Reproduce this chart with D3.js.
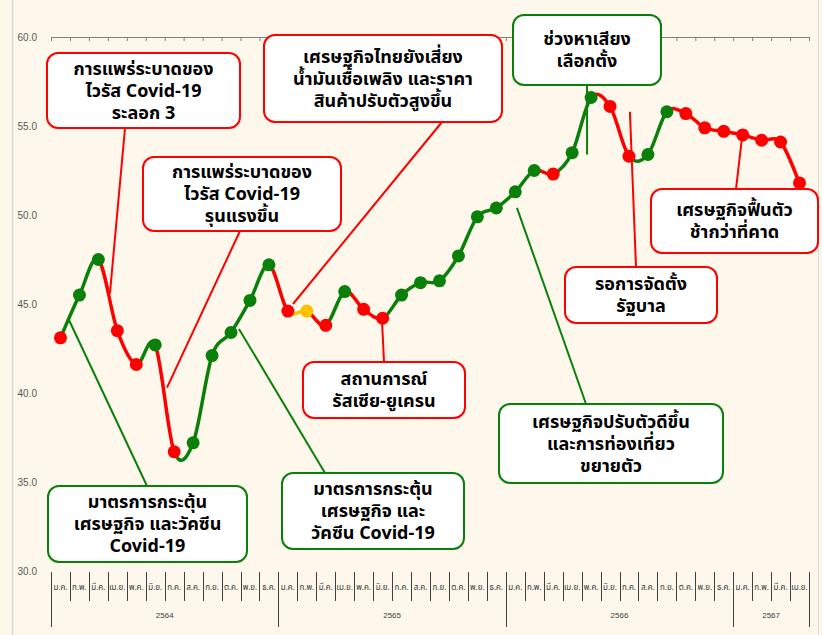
<!DOCTYPE html>
<html>
<head>
<meta charset="utf-8">
<script src="https://cdn.jsdelivr.net/npm/d3@7"></script>
<style>
  body { margin: 0; background: #fdf8eb; }
  svg { display: block; }
</style>
</head>
<body>
<div id="chart"></div>
<script>
// Thai month abbreviations and Buddhist-era years
const months = ["ม.ค.", "ก.พ.", "มี.ค.", "เม.ย.", "พ.ค.", "มิ.ย.", "ก.ค.", "ส.ค.", "ก.ย.", "ต.ค.", "พ.ย.", "ธ.ค."];
const years = ["2564", "2565", "2566", "2567"];
const monthsPerYear = [12, 12, 12, 4];

// index values, Jan 2564 .. Apr 2567
const values = [
    43.1, 45.5, 47.5, 43.5, 41.6, 42.7, 36.7, 37.2, 42.1, 43.4, 45.2, 47.2,
    44.6, 44.6, 43.8, 45.7, 44.7, 44.2, 45.5, 46.2, 46.3, 47.7, 49.9, 50.4,
    51.3, 52.5, 52.3, 53.5, 56.6, 56.1, 53.3, 53.4, 55.8, 55.7, 54.9, 54.7,
    54.5, 54.2, 54.1, 51.8
];
// d = down (red), u = up (green), n = unchanged (yellow)
const trend = ("duudduduuuuu" + "dndudduuuuuu" + "uuduudduuddd" + "dddd").split("");

const yTicks = [30, 35, 40, 45, 50, 55, 60];

// annotation boxes: text, colour, box [x0,y0,x1,y1], leader start on box, leader end in data units [month, value]
const notes = [
    { lines: ["การแพร่ระบาดของ", "ไวรัส Covid-19", "ระลอก 3"], c: "red", box: [47, 53, 240, 128], from: [125, 128], to: [3.11, 45.6] },
    { lines: ["การแพร่ระบาดของ", "ไวรัส Covid-19", "รุนแรงขึ้น"], c: "red", box: [143, 157, 341, 231], from: [240, 231], to: [6.12, 40.3] },
    { lines: ["เศรษฐกิจไทยยังเสี่ยง", "น้ำมันเชื้อเพลิง และราคา", "สินค้าปรับตัวสูงขึ้น"], c: "red", box: [264, 35, 502, 122], from: [442, 122], to: [12.77, 45.0] },
    { lines: ["ช่วงหาเสียง", "เลือกตั้ง"], c: "green", box: [513, 15, 661, 85], from: [587, 85], to: [28.29, 53.4] },
    { lines: ["เศรษฐกิจฟื้นตัว", "ช้ากว่าที่คาด"], c: "red", box: [651, 189, 818, 253], from: [736, 189], to: [36.46, 54.3] },
    { lines: ["รอการจัดตั้ง", "รัฐบาล"], c: "red", box: [565, 267, 717, 323], from: [636, 267], to: [30.55, 55.8] },
    { lines: ["สถานการณ์", "รัสเซีย-ยูเครน"], c: "red", box: [303, 362, 465, 418], from: [384, 362], to: [17.47, 44.0] },
    { lines: ["เศรษฐกิจปรับตัวดีขึ้น", "และการท่องเที่ยว", "ขยายตัว"], c: "green", box: [499, 404, 723, 483], from: [586, 404], to: [24.59, 50.4] },
    { lines: ["มาตรการกระตุ้น", "เศรษฐกิจ และวัคซีน", "Covid-19"], c: "green", box: [48, 486, 247, 562], from: [147, 486], to: [0.95, 44.1] },
    { lines: ["มาตรการกระตุ้น", "เศรษฐกิจ และ", "วัคซีน Covid-19"], c: "green", box: [282, 473, 464, 549], from: [325, 473], to: [9.92, 43.6] }
];

const colors = { red: "#ff0000", green: "#0a800a", d: "#ff0000", u: "#0a800a", n: "#ffc000" };
const W = 822, H = 635;
const thaiFont = "'Noto Sans Thai', 'Noto Sans', 'DejaVu Sans', sans-serif";

const svg = d3.select("#chart").append("svg")
    .attr("width", W)
    .attr("height", H);

// chart area frame
svg.append("line").attr("x1", 12.5).attr("x2", 12.5).attr("y1", 0).attr("y2", H)
    .attr("stroke", "#d9d9d9").attr("stroke-width", 1.5);
svg.append("line").attr("x1", 818.5).attr("x2", 818.5).attr("y1", 0).attr("y2", H)
    .attr("stroke", "#d9d9d9").attr("stroke-width", 1);

const nMonths = values.length;
const x = d3.scaleLinear().domain([0, nMonths]).range([51, 809]);
const y = d3.scaleLinear().domain([30, 60]).range([571, 37]);

// y axis labels
svg.append("g")
    .attr("transform", "translate(40,0)")
    .call(d3.axisLeft(y).tickValues(yTicks).tickFormat(d3.format(".1f")).tickSize(0).tickPadding(3))
    .call(g => g.select(".domain").remove())
    .call(g => g.selectAll("text")
        .attr("fill", "#595959")
        .style("font-family", "'Liberation Sans', Arial, sans-serif")
        .style("font-size", "10px"));

// top axis line (crosses at max) with small ticks
const boundaries = d3.range(nMonths + 1);
svg.append("g")
    .attr("transform", `translate(0,${y(60)})`)
    .call(d3.axisBottom(x).tickValues(boundaries).tickSize(4).tickSizeOuter(0).tickFormat(""))
    .call(g => g.select(".domain").attr("stroke", "#7f7f7f"))
    .call(g => g.selectAll(".tick line").attr("stroke", "#7f7f7f"));

// bottom multi-level category axis
const yearStart = d3.cumsum([0, ...monthsPerYear]);
const axisTop = y(30) + 1;
const isYearEdge = b => yearStart.includes(b);
svg.append("g").selectAll("line")
    .data(boundaries)
    .join("line")
    .attr("x1", d => Math.round(x(d)) + 0.5)
    .attr("x2", d => Math.round(x(d)) + 0.5)
    .attr("y1", axisTop)
    .attr("y2", d => isYearEdge(d) ? axisTop + 55 : axisTop + 29)
    .attr("stroke", "#404040")
    .attr("stroke-width", 1);

svg.append("g").selectAll("text")
    .data(d3.range(nMonths))
    .join("text")
    .attr("x", d => x(d + 0.5))
    .attr("y", axisTop + 18)
    .attr("text-anchor", "middle")
    .attr("fill", "#333333")
    .style("font-family", thaiFont)
    .style("font-size", "8px")
    .text(d => months[d % 12]);

svg.append("g").selectAll("text")
    .data(years)
    .join("text")
    .attr("x", (d, i) => x((yearStart[i] + yearStart[i + 1]) / 2))
    .attr("y", axisTop + 46)
    .attr("text-anchor", "middle")
    .attr("fill", "#404040")
    .style("font-family", "'Liberation Sans', Arial, sans-serif")
    .style("font-size", "8px")
    .text(d => d);

// leader lines (behind the data)
svg.append("g").selectAll("line")
    .data(notes)
    .join("line")
    .attr("x1", d => d.from[0])
    .attr("y1", d => d.from[1])
    .attr("x2", d => x(d.to[0]))
    .attr("y2", d => y(d.to[1]))
    .attr("stroke", d => colors[d.c])
    .attr("stroke-width", 2);

// smoothed line, each segment coloured by the month it ends in
const pts = values.map((v, i) => [x(i + 0.5), y(v)]);
const segPath = i => {
    const p0 = pts[Math.max(i - 1, 0)], p1 = pts[i], p2 = pts[i + 1], p3 = pts[Math.min(i + 2, pts.length - 1)];
    const c1 = [p1[0] + (p2[0] - p0[0]) / 6, p1[1] + (p2[1] - p0[1]) / 6];
    const c2 = [p2[0] - (p3[0] - p1[0]) / 6, p2[1] - (p3[1] - p1[1]) / 6];
    const p = d3.path();
    p.moveTo(p1[0], p1[1]);
    p.bezierCurveTo(c1[0], c1[1], c2[0], c2[1], p2[0], p2[1]);
    return p.toString();
};
svg.append("g").selectAll("path")
    .data(d3.range(nMonths - 1))
    .join("path")
    .attr("d", segPath)
    .attr("fill", "none")
    .attr("stroke", i => colors[trend[i + 1]])
    .attr("stroke-width", 3.5)
    .attr("stroke-linecap", "round");

svg.append("g").selectAll("circle")
    .data(values)
    .join("circle")
    .attr("cx", (d, i) => x(i + 0.5))
    .attr("cy", d => y(d))
    .attr("r", 6.5)
    .attr("fill", (d, i) => colors[trend[i]]);

// annotation boxes
const noteG = svg.append("g").selectAll("g")
    .data(notes)
    .join("g");

noteG.append("rect")
    .attr("x", d => d.box[0])
    .attr("y", d => d.box[1])
    .attr("width", d => d.box[2] - d.box[0])
    .attr("height", d => d.box[3] - d.box[1])
    .attr("rx", 11)
    .attr("fill", "#ffffff")
    .attr("stroke", d => colors[d.c])
    .attr("stroke-width", 2);

noteG.each(function (d) {
    const cx = (d.box[0] + d.box[2]) / 2;
    const cy = (d.box[1] + d.box[3]) / 2;
    const lh = 22;
    d3.select(this).selectAll("text")
        .data(d.lines)
        .join("text")
        .attr("x", cx)
        .attr("y", (t, i) => cy + (i - (d.lines.length - 1) / 2) * lh)
        .attr("dy", "0.35em")
        .attr("text-anchor", "middle")
        .attr("fill", "#000")
        .style("font-family", thaiFont)
        .style("font-weight", "bold")
        .style("font-size", "18px")
        .text(t => t);
});
</script>
</body>
</html>
